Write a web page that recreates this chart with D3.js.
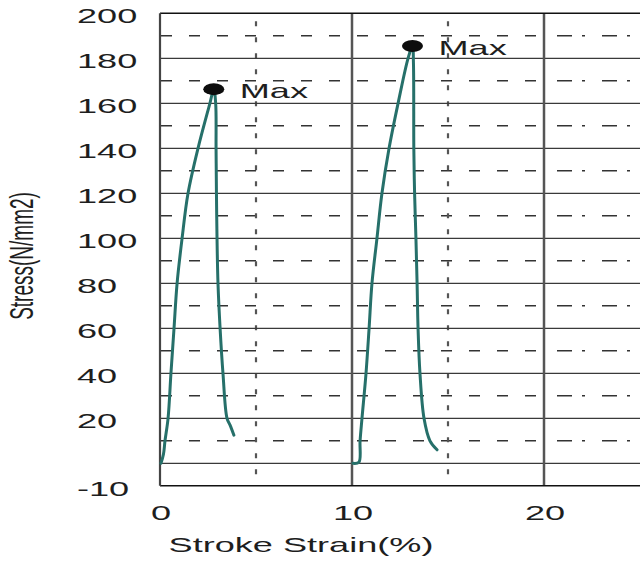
<!DOCTYPE html>
<html>
<head>
<meta charset="utf-8">
<script src="https://cdn.jsdelivr.net/npm/d3@7/dist/d3.min.js"></script>
<style>
  html, body { margin: 0; padding: 0; background: #fff; }
  svg { display: block; }
  text { font-family: "Liberation Sans", Arial, sans-serif; fill: #1e1e1e; }
</style>
</head>
<body>
<script>
// Stress–strain curves for two tensile specimens
const strainA = [0.05, 0.18, 0.26, 0.42, 0.57, 0.73, 0.89, 1.15, 1.46, 1.98, 2.6, 2.8, 2.9, 2.92, 2.94, 2.97, 3.02, 3.13, 3.28, 3.49, 3.65, 3.85];
const stressA = [0, 4, 10, 20, 40, 60, 80, 100, 120, 140, 160, 166.3, 160, 140, 120, 100, 80, 60, 40, 20, 17, 12.5];

const strainB = [10.05, 10.36, 10.42, 10.52, 10.73, 10.89, 11.04, 11.3, 11.56, 11.93, 12.4, 12.92, 13.15, 13.2, 13.22, 13.26, 13.33, 13.39, 13.44, 13.54, 13.75, 14.06, 14.43];
const stressB = [0, 0.5, 10, 20, 40, 60, 80, 100, 120, 140, 160, 180, 185.5, 178, 140, 120, 100, 80, 60, 40, 20, 10, 6];

const maxStrain = [2.8, 13.15];
const maxStress = [166.3, 185.5];
const maxLabel = "Max";

const yTickValues = [200, 180, 160, 140, 120, 100, 80, 60, 40, 20, -10];
const xTickValues = [0, 10, 20];
const yMajorGrid = [0, 20, 40, 60, 80, 100, 120, 140, 160, 180];
const yMinorGrid = [10, 30, 50, 70, 90, 110, 130, 150, 170, 190];
const xMajorGrid = [10, 20];
const xMinorGrid = [5, 15];

const xTitle = "Stroke Strain(%)";
const yTitle = "Stress(N/mm2)";

const W = 640, H = 563;
const SX = 1.72; // horizontal text stretch

const x = d3.scaleLinear().domain([0, 25]).range([160, 640]);
const y = d3.scaleLinear().domain([-10, 200]).range([485.8, 13.3]);

const svg = d3.select("body").append("svg")
  .attr("width", W).attr("height", H);

svg.append("rect").attr("width", W).attr("height", H).attr("fill", "#fff");

const grid = svg.append("g");

// horizontal dashed grid (left of 20 plain dashes, right of 20 dash-dot)
grid.selectAll(".hminA").data(yMinorGrid).join("line")
  .attr("x1", x(0) + 1).attr("x2", x(20) - 1)
  .attr("y1", d => y(d)).attr("y2", d => y(d))
  .attr("stroke", "#333").attr("stroke-width", 1.4)
  .attr("stroke-dasharray", "11,17");
grid.selectAll(".hminB").data(yMinorGrid).join("line")
  .attr("x1", x(20) + 13).attr("x2", x(25))
  .attr("y1", d => y(d)).attr("y2", d => y(d))
  .attr("stroke", "#333").attr("stroke-width", 1.4)
  .attr("stroke-dasharray", "15,10,3,17");

// vertical dashed grid
grid.selectAll(".vmin").data(xMinorGrid).join("line")
  .attr("x1", d => x(d)).attr("x2", d => x(d))
  .attr("y1", y(200) + 8).attr("y2", y(-10))
  .attr("stroke", "#555").attr("stroke-width", 2.2)
  .attr("stroke-dasharray", "5,11");

// horizontal solid grid
grid.selectAll(".hmaj").data(yMajorGrid).join("line")
  .attr("x1", x(0)).attr("x2", x(25))
  .attr("y1", d => y(d)).attr("y2", d => y(d))
  .attr("stroke", "#3a3a3a").attr("stroke-width", 1.3);

// vertical solid grid
grid.selectAll(".vmaj").data(xMajorGrid).join("line")
  .attr("x1", d => x(d)).attr("x2", d => x(d))
  .attr("y1", y(200)).attr("y2", y(-10))
  .attr("stroke", "#555").attr("stroke-width", 2.5);

// frame
svg.append("line").attr("x1", x(0)).attr("x2", x(25))
  .attr("y1", y(200)).attr("y2", y(200))
  .attr("stroke", "#111").attr("stroke-width", 1.6);
svg.append("line").attr("x1", x(0)).attr("x2", x(25))
  .attr("y1", y(-10)).attr("y2", y(-10))
  .attr("stroke", "#111").attr("stroke-width", 1.6);
svg.append("line").attr("x1", x(0)).attr("x2", x(0))
  .attr("y1", y(200)).attr("y2", y(-10))
  .attr("stroke", "#444").attr("stroke-width", 2.2);

// curves
const line = d3.line()
  .x(d => x(d[0])).y(d => y(d[1]))
  .curve(d3.curveCatmullRom.alpha(0.5));
const curves = [d3.zip(strainA, stressA), d3.zip(strainB, stressB)];
svg.selectAll(".curve").data(curves).join("path")
  .attr("d", line)
  .attr("fill", "none")
  .attr("stroke", "#26706a")
  .attr("stroke-width", 3)
  .attr("stroke-linejoin", "round")
  .attr("stroke-linecap", "round");

// maximum markers
const maxPts = d3.zip(maxStrain, maxStress);
svg.selectAll(".maxdot").data(maxPts).join("ellipse")
  .attr("cx", d => x(d[0])).attr("cy", d => y(d[1]))
  .attr("rx", 10.5).attr("ry", 6)
  .attr("fill", "#0d0d0d");

function stretchedText(g, str, tx, ty, anchor, size, rotate) {
  return g.append("text")
    .attr("transform", `translate(${tx},${ty}) scale(${SX},1)` + (rotate ? " rotate(-90)" : ""))
    .attr("text-anchor", anchor)
    .attr("font-size", size)
    .text(str);
}

const labels = svg.append("g");
maxPts.forEach(d => {
  stretchedText(labels, maxLabel, x(d[0]) + 26, y(d[1]) + 9, "start", 21);
});

// y tick labels (left aligned)
yTickValues.forEach(v => {
  stretchedText(labels, String(v), 77, y(v) + 10, "start", 21);
});

// x tick labels
xTickValues.forEach(v => {
  stretchedText(labels, String(v), x(v) + 1, 520, "middle", 21);
});

// axis titles
stretchedText(labels, xTitle, 301, 552, "middle", 21);
stretchedText(labels, yTitle, 33, 256, "middle", 19, true);
</script>
</body>
</html>
